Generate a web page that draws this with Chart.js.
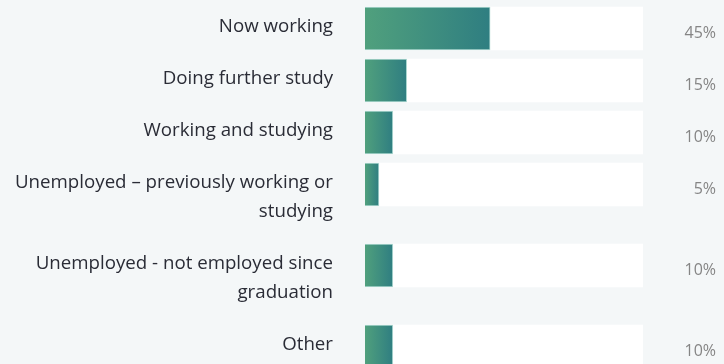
<!DOCTYPE html>
<html>
<head>
<meta charset="utf-8">
<script src="https://cdn.jsdelivr.net/npm/chart.js@4"></script>
<style>
  html, body { margin: 0; padding: 0; background: #f4f7f8; }
  #wrap { width: 724px; height: 364px; position: relative; }
</style>
</head>
<body>
<div id="wrap"><canvas id="outcomes"></canvas></div>
<script>
// outcome categories (each entry is the lines of the label)
var outcomeLabels = [
	['Now working'],
	['Doing further study'],
	['Working and studying'],
	['Unemployed \u2013 previously working or', 'studying'],
	['Unemployed - not employed since', 'graduation'],
	['Other']
];
var outcomePercent = [45, 15, 10, 5, 10, 10];
var fullScale = 100;

// row layout
var firstRowCenter = 28.5;
var rowPitch = 52;
var lineHeight = 29;
var barHeight = 43;
var labelFont = '18.7px "Open Sans", sans-serif';
var valueFont = '16px "Open Sans", sans-serif';

var rowCenters = [];
var pos = firstRowCenter;
for (var i = 0; i < outcomeLabels.length; i++) {
	rowCenters.push(pos);
	pos += rowPitch + lineHeight * (outcomeLabels[i].length - 1);
}

var barData = [];
var trackData = [];
for (var i = 0; i < outcomePercent.length; i++) {
	barData.push({ x: outcomePercent[i], y: rowCenters[i] });
	trackData.push({ x: fullScale, y: rowCenters[i] });
}

function barGradient(context) {
	var chart = context.chart;
	if (!chart.chartArea || context.type !== 'data') {
		return '#3f917f';
	}
	var xs = chart.scales.x;
	var x0 = xs.getPixelForValue(0);
	var x1 = xs.getPixelForValue(context.raw.x);
	if (x1 - x0 < 1) x1 = x0 + 1;
	var g = chart.ctx.createLinearGradient(x0, 0, x1, 0);
	g.addColorStop(0, '#50a07d');
	g.addColorStop(1, '#2f7e81');
	return g;
}

var textPlugin = {
	id: 'rowText',
	afterDatasetsDraw: function(chart) {
		var ctx = chart.ctx;
		var ys = chart.scales.y;
		var area = chart.chartArea;
		ctx.save();
		ctx.textBaseline = 'middle';
		for (var i = 0; i < outcomeLabels.length; i++) {
			var cy = ys.getPixelForValue(rowCenters[i]);
			ctx.font = labelFont;
			ctx.fillStyle = '#2a2c36';
			ctx.textAlign = 'right';
			for (var j = 0; j < outcomeLabels[i].length; j++) {
				ctx.fillText(outcomeLabels[i][j], area.left - 32, cy - 2 + j * lineHeight);
			}
			ctx.font = valueFont;
			ctx.fillStyle = '#858585';
			ctx.fillText(outcomePercent[i] + '%', chart.width - 8, cy + 5);
		}
		ctx.restore();
	}
};

var chart = new Chart(document.getElementById('outcomes'), {
	type: 'bar',
	data: {
		datasets: [
			{
				data: barData,
				backgroundColor: barGradient,
				borderColor: 'rgba(140,200,190,0.7)',
				borderWidth: 1,
				barThickness: barHeight,
				grouped: false,
				order: 1
			},
			{
				data: trackData,
				backgroundColor: '#ffffff',
				borderWidth: 0,
				barThickness: barHeight,
				grouped: false,
				order: 2
			}
		]
	},
	options: {
		indexAxis: 'y',
		responsive: true,
		maintainAspectRatio: false,
		animation: false,
		layout: { padding: { left: 365, right: 81, top: 0, bottom: 0 } },
		plugins: {
			legend: { display: false },
			tooltip: { enabled: false }
		},
		scales: {
			x: { type: 'linear', min: 0, max: fullScale, display: false },
			y: { type: 'linear', min: 0, max: 364, reverse: true, offset: false, display: false }
		}
	},
	plugins: [textPlugin]
});
</script>
</body>
</html>
